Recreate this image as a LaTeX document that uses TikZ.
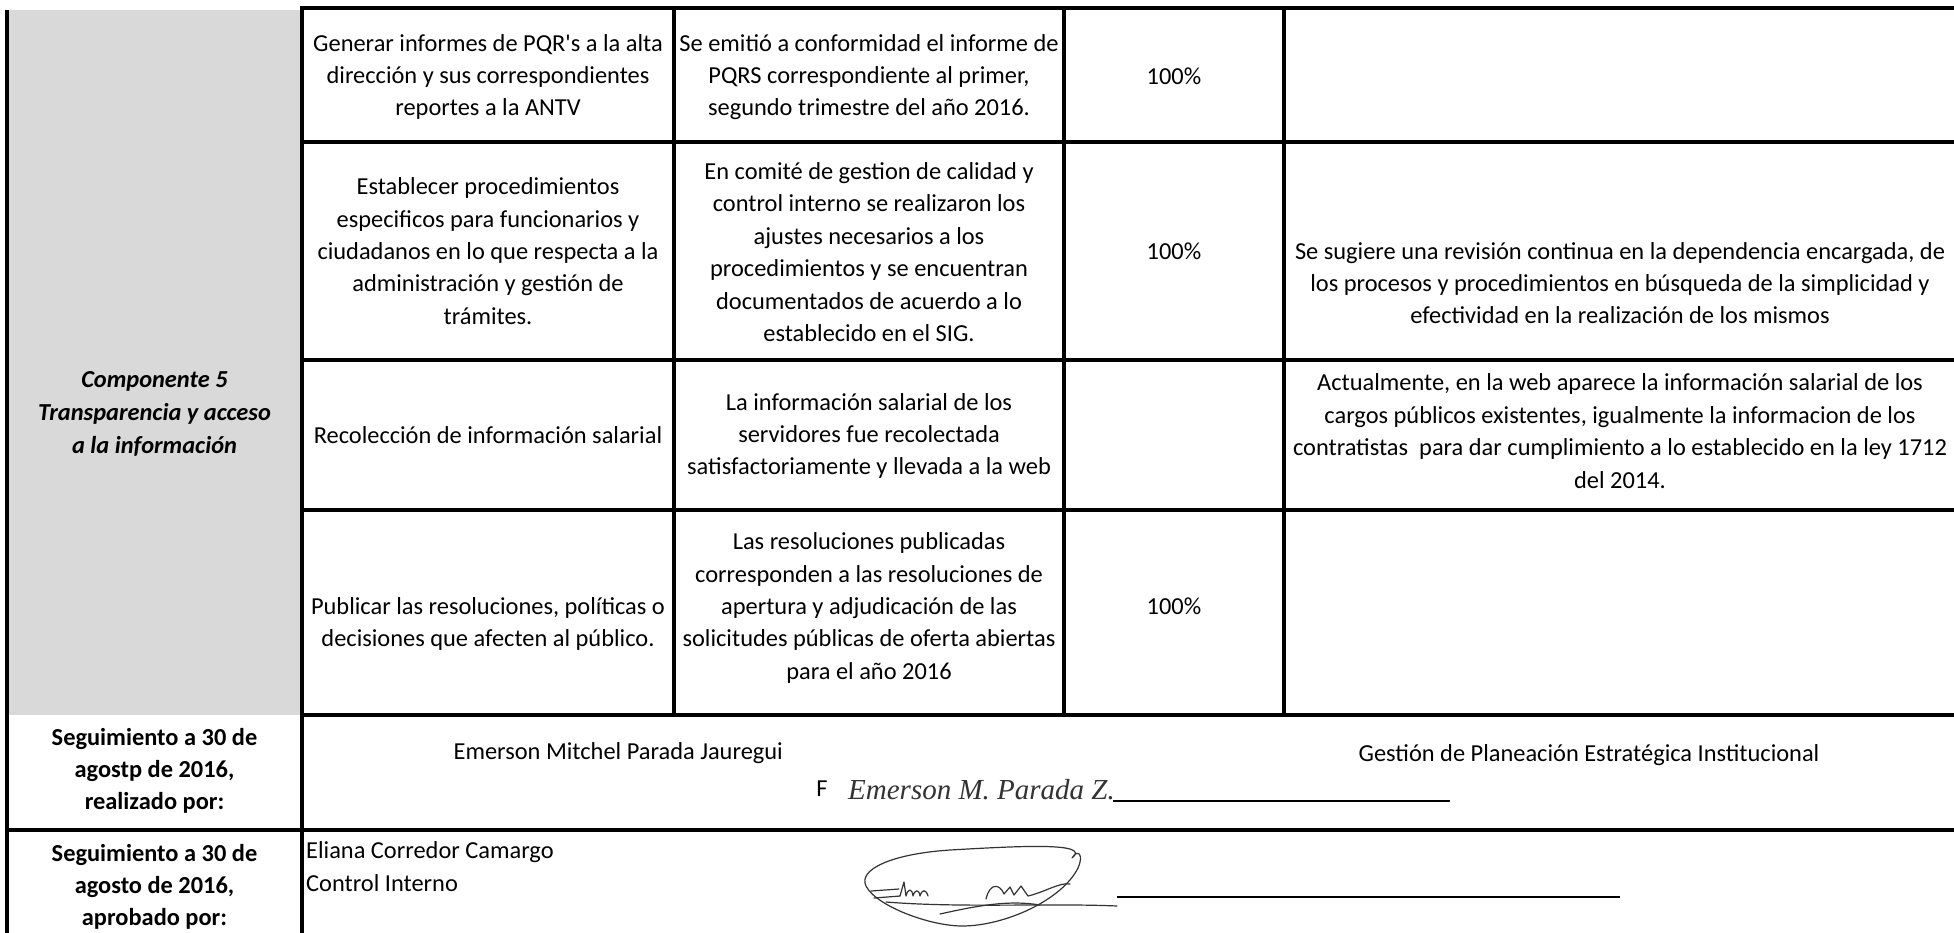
\documentclass[tikz,border=0pt]{standalone}
\usepackage{fontspec}
\setmainfont{Carlito}
\newfontfamily\sigfont{Liberation Serif}
\definecolor{cellgrey}{HTML}{D9D9D9}
\begin{document}
\begin{tikzpicture}[x=1pt,y=-1pt,
  cell/.style={align=center,inner sep=0pt,font=\fontsize{24.4}{32.4}\selectfont},
  lcell/.style={align=left,inner sep=0pt,anchor=west,font=\fontsize{24.4}{32.4}\selectfont},
  hcell/.style={cell,font=\fontsize{24.4}{32.4}\selectfont\bfseries},
  hrule/.style={line width=4pt},
  vrule/.style={line width=3.4pt},
  sigline/.style={line width=1.2pt,black!80,line cap=round,line join=round},
  uline/.style={line width=1.8pt}]
\useasboundingbox (0,0) rectangle (1954,932);
\fill[white] (0,0) rectangle (1954,932);
\fill[cellgrey] (7,10) rectangle (302,715);
% rules
\draw[vrule] (7,10) -- (7,940);
\draw[vrule] (302,6) -- (302,940);
\draw[vrule] (674,6) -- (674,715);
\draw[vrule] (1064,6) -- (1064,715);
\draw[vrule] (1284,6) -- (1284,715);
\draw[hrule] (300,8) -- (1960,8);
\draw[hrule] (300,142) -- (1960,142);
\draw[hrule] (300,360) -- (1960,360);
\draw[hrule] (300,510) -- (1960,510);
\draw[hrule] (300,715) -- (1960,715);
\draw[hrule] (5,830) -- (1960,830);
% column 1
\node[cell,font=\fontsize{24.4}{33}\selectfont\bfseries\itshape] (comp) at (154.5,414) {\strut Componente 5\\\strut Transparencia y acceso\\\strut a la información};
\node[hcell] (seg1) at (154.5,771) {\strut Seguimiento a 30 de\\\strut agostp de 2016,\\\strut realizado por:};
\node[hcell] (seg2) at (154.5,887) {\strut Seguimiento a 30 de\\\strut agosto de 2016,\\\strut aprobado por:};
% column 2
\node[cell] (r1a) at (488,77) {\strut Generar informes de PQR\textquotesingle s a la alta\\\strut dirección y sus correspondientes\\\strut reportes a la ANTV};
\node[cell] (r2a) at (488,253) {\strut Establecer procedimientos\\\strut especificos para funcionarios y\\\strut ciudadanos en lo que respecta a la\\\strut administración y gestión de\\\strut trámites.};
\node[cell] (r3a) at (488,437) {\strut Recolección de información salarial};
\node[cell] (r4a) at (488,624) {\strut Publicar las resoluciones, políticas o\\\strut decisiones que afecten al público.};
% column 3
\node[cell] (r1b) at (869,77) {\strut Se emitió a conformidad el informe de\\\strut PQRS correspondiente al primer,\\\strut segundo trimestre del año 2016.};
\node[cell] (r2b) at (869,254) {\strut En comité de gestion de calidad y\\\strut control interno se realizaron los\\\strut ajustes necesarios a los\\\strut procedimientos y se encuentran\\\strut documentados de acuerdo a lo\\\strut establecido en el SIG.};
\node[cell] (r3b) at (869,436) {\strut La información salarial de los\\\strut servidores fue recolectada\\\strut satisfactoriamente y llevada a la web};
\node[cell] (r4b) at (869,608) {\strut Las resoluciones publicadas\\\strut corresponden a las resoluciones de\\\strut apertura y adjudicación de las\\\strut solicitudes públicas de oferta abiertas\\\strut para el año 2016};
% column 4 (percent)
\node[cell] (r1c) at (1174,78) {\strut 100\%};
\node[cell] (r2c) at (1174,253) {\strut 100\%};
\node[cell] (r4c) at (1174,608) {\strut 100\%};
% column 5
\node[cell] (r2d) at (1620,285) {\strut Se sugiere una revisión continua en la dependencia encargada, de\\\strut los procesos y procedimientos en búsqueda de la simplicidad y\\\strut efectividad en la realización de los mismos};
\node[cell] (r3d) at (1620,433) {\strut Actualmente, en la web aparece la información salarial de los\\\strut cargos públicos existentes, igualmente la informacion de los\\\strut contratistas \ para dar cumplimiento a lo establecido en la ley 1712\\\strut del 2014.};
% realizado por
\node[cell,anchor=east] (emer) at (783,753) {\strut Emerson Mitchel Parada Jauregui};
\node[cell] (gest) at (1589,755) {\strut Gestión de Planeación Estratégica Institucional};
\node[cell] (fmark) at (822,790) {\strut F};
\node[anchor=west,inner sep=0pt,text=black!80,font=\sigfont\itshape\fontsize{29}{29}\selectfont] (sig1) at (848,790) {Emerson M. Parada Z.};
\coordinate (u1a) at (1113,801);
\coordinate (u1b) at (1450,801);
\draw[uline] (u1a) -- (u1b);
% aprobado por
\node[lcell] (eli) at (306,852) {\strut Eliana Corredor Camargo};
\node[lcell] (ci) at (306,885) {\strut Control Interno};
\coordinate (u2a) at (1117,897);
\coordinate (u2b) at (1620,897);
\draw[uline] (u2a) -- (u2b);
% second signature (drawn strokes)
\draw[sigline] (1072,858) .. controls (1092,842) and (1020,846) .. (950,850)
  .. controls (890,854) and (858,870) .. (866,886)
  .. controls (876,906) and (930,926) .. (962,926)
  .. controls (1005,926) and (1062,900) .. (1078,868)
  .. controls (1084,855) and (1078,848) .. (1072,858);
\draw[sigline] (871,891) -- (899,889);
\draw[sigline] (874,898) -- (900,896);
\draw[sigline] (900,896) -- (904,882) -- (906,896) .. controls (908,888) and (912,888) .. (913,896)
  .. controls (915,889) and (919,889) .. (920,896) .. controls (922,889) and (926,889) .. (928,896);
\draw[sigline] (886,902) .. controls (960,908) and (1050,903) .. (1117,906);
\draw[sigline] (986,899) .. controls (990,882) and (1000,884) .. (1004,894)
  -- (1010,887) -- (1014,895) -- (1021,886) -- (1028,896)
  .. controls (1045,892) and (1060,882) .. (1070,884);
\draw[sigline] (940,914) .. controls (980,905) and (1010,900) .. (1040,905);
\end{tikzpicture}
\end{document}
